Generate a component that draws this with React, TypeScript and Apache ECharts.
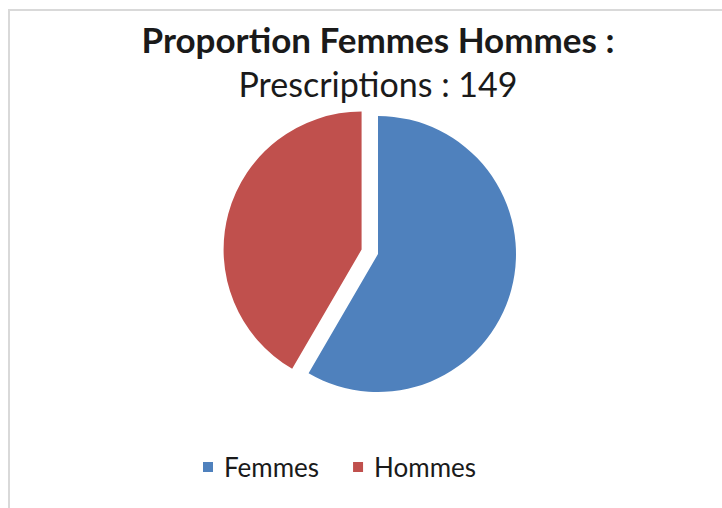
import React, { useEffect, useRef } from "react";
import * as echarts from "echarts";

const categories = ["Femmes", "Hommes"];
const values = [87, 62];
const colors = ["#4F81BD", "#C0504D"];
const titleText = "Proportion Femmes Hommes :";
const subtitleText = "Prescriptions : 149";

export default function App() {
  const ref = useRef<HTMLDivElement>(null);
  useEffect(() => {
    if (!ref.current) return;
    const chart = echarts.init(ref.current, null, { renderer: "svg" });
    const font = "Lato, 'Open Sans', sans-serif";
    chart.setOption({
      animation: false,
      backgroundColor: "#ffffff",
      title: [
        {
          text: titleText,
          left: 378,
          top: 21,
          textAlign: "center",
          padding: 0,
          textStyle: { fontFamily: font, fontWeight: "bold", fontSize: 35, color: "#1a1a1a" },
        },
        {
          text: subtitleText,
          left: 378,
          top: 66,
          textAlign: "center",
          padding: 0,
          textStyle: { fontFamily: font, fontWeight: "normal", fontSize: 34, color: "#1a1a1a" },
        },
      ],
      legend: {
        data: categories,
        left: 203,
        top: 454,
        padding: 0,
        icon: "rect",
        itemWidth: 10,
        itemHeight: 10,
        itemGap: 34,
        selectedMode: false,
        textStyle: { fontFamily: font, fontSize: 26, color: "#1a1a1a", padding: [0, 0, 0, 6] },
      },
      graphic: [
        {
          type: "polyline",
          shape: { points: [[9, 508], [9, 10], [722, 10]] },
          style: { stroke: "#d9d9d9", lineWidth: 2, fill: "none" },
          silent: true,
        },
      ],
      series: [
        {
          type: "pie",
          center: [378, 254],
          radius: 138,
          startAngle: 90,
          clockwise: true,
          selectedMode: "single",
          selectedOffset: 17,
          label: { show: false },
          labelLine: { show: false },
          emphasis: { disabled: true },
          data: categories.map((name, i) => ({
            name,
            value: values[i],
            selected: name === "Hommes",
            itemStyle: { color: colors[i] },
          })),
        },
      ],
    });
    return () => chart.dispose();
  }, []);
  return (
    <div
      ref={ref}
      style={{ position: "absolute", left: 0, top: 0, width: 722, height: 508 }}
    />
  );
}
